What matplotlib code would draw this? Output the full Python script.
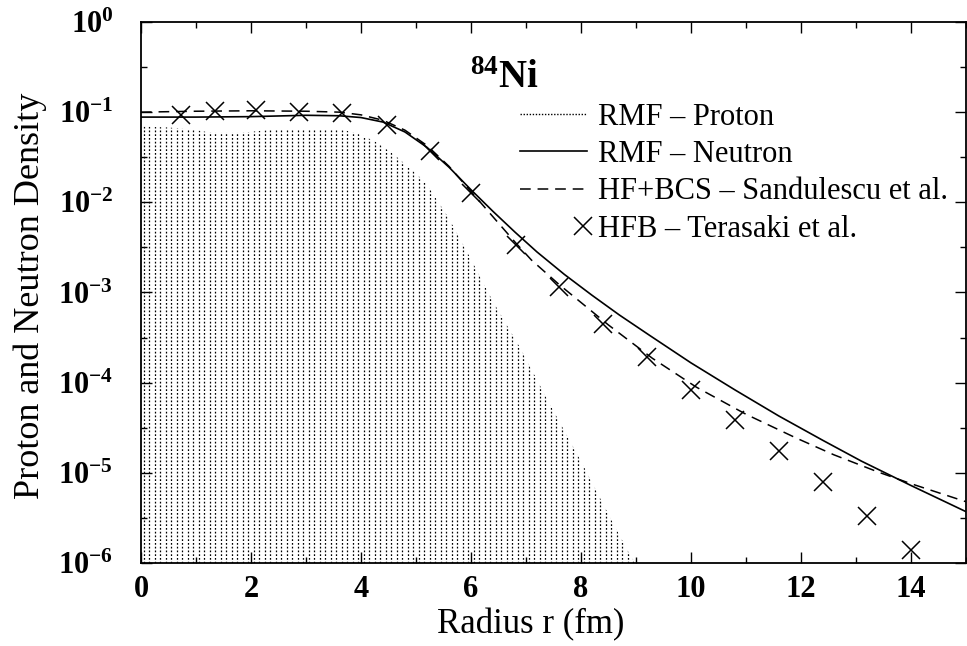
import numpy as np
import matplotlib
matplotlib.use("Agg")
import matplotlib.pyplot as plt
from matplotlib.lines import Line2D
from matplotlib.legend_handler import HandlerLine2D
from matplotlib.ticker import FixedLocator, FuncFormatter

plt.rcParams['font.family'] = ['Liberation Serif', 'DejaVu Serif']
plt.rcParams['mathtext.fontset'] = 'custom'
plt.rcParams['mathtext.rm'] = 'Liberation Serif'
plt.rcParams['mathtext.bf'] = 'Liberation Serif:bold'
plt.rcParams['mathtext.it'] = 'Liberation Serif:italic'

# ---- data (log10 of density) ----
r_proton = [0, 0.5, 1.0, 1.3, 1.8, 2.3, 3.0, 3.7, 4.0, 4.3, 4.6, 5.0, 5.2, 5.6, 6.0, 6.4, 6.9, 7.4, 8.0, 8.5, 8.9, 9.1]
log_proton = [-1.16, -1.17, -1.20, -1.23, -1.23, -1.20, -1.19, -1.20, -1.25, -1.34, -1.47, -1.68, -1.80,
              -2.18, -2.63, -3.10, -3.62, -4.20, -4.87, -5.46, -5.92, -6.10]

r_neutron = [0, 1, 2, 3, 3.6, 4.0, 4.4, 4.8, 5.2, 5.6, 6.0, 6.4, 6.8, 7.2, 7.7, 8.2, 8.7, 9.26,
             10.0, 10.8, 11.6, 12.4, 13.1, 14.0, 15.0]
log_neutron = [-1.055, -1.055, -1.05, -1.035, -1.04, -1.06, -1.11, -1.22, -1.39, -1.61, -1.86, -2.10,
               -2.33, -2.55, -2.80, -3.03, -3.25, -3.48, -3.78, -4.08, -4.37, -4.64, -4.87, -5.14, -5.43]

r_hfbcs = [0, 1, 2, 3, 3.6, 4.0, 4.4, 4.8, 5.2, 5.6, 6.0, 6.4, 6.8, 7.1, 7.6, 8.1, 8.5, 9.3,
           10.1, 11.0, 11.9, 12.6, 13.4, 14.0, 15.0]
log_hfbcs = [-1.0, -0.99, -0.985, -0.99, -1.0, -1.03, -1.09, -1.20, -1.37, -1.60, -1.88, -2.16,
             -2.44, -2.64, -2.91, -3.16, -3.36, -3.73, -4.05, -4.35, -4.61, -4.80, -4.99, -5.12, -5.32]

r_hfb = [0.72, 1.34, 2.1, 2.88, 3.65, 4.47, 5.25, 6.0, 6.82, 7.6, 8.4, 9.2, 10.0, 10.8, 11.6, 12.4, 13.2, 14.0]
log_hfb = [-1.03, -0.99, -0.98, -1.0, -1.01, -1.14, -1.43, -1.90, -2.47, -2.94, -3.35, -3.72,
           -4.08, -4.41, -4.76, -5.10, -5.48, -5.86]

xticks = [0, 2, 4, 6, 8, 10, 12, 14]
ydecades = [-6, -5, -4, -3, -2, -1, 0]


class RightMarkerHandler(HandlerLine2D):
    """Legend handler that puts its single marker near the right end of the handle."""
    def get_xdata(self, legend, xdescent, ydescent, width, height, fontsize):
        xdata = np.array([-xdescent + 0.9 * width, -xdescent + width])
        return xdata, xdata


fig = plt.figure(figsize=(9.67, 6.46), dpi=100)
ax = fig.add_axes([0.1458, 0.1285, 0.853, 0.8375])
ax.set_yscale('log')
ax.set_xlim(0, 15)
ax.set_ylim(1e-6, 1)

# proton density: region filled with columns of small dots (clipped to the area under the curve)
rp = np.array(r_proton)
dp = 10 ** np.array(log_proton)
area = ax.fill_between(rp, 1e-6, dp, facecolor='none', edgecolor='none', linewidth=0)
cols = ax.vlines(np.arange(0.05, 15, 0.1), 1e-6, 1, colors='black', linewidth=0.9,
                 linestyles=[(0, (1.4, 1.6))])
cols.set_clip_path(area.get_paths()[0], ax.transData)

ax.plot(r_neutron, 10 ** np.array(log_neutron), color='black', lw=1.2)
ax.plot(r_hfbcs, 10 ** np.array(log_hfbcs), color='black', lw=1.1, ls=(0, (7, 4.5)))
ax.plot(r_hfb, 10 ** np.array(log_hfb), ls='none', marker='x', color='black', ms=13, mew=1.1)

ax.xaxis.set_major_locator(FixedLocator(xticks))
ax.xaxis.set_minor_locator(FixedLocator(np.arange(0, 16, 1)))
ax.yaxis.set_major_locator(FixedLocator([10.0 ** d for d in ydecades]))
ax.yaxis.set_minor_locator(FixedLocator([10.0 ** (d + 0.5) for d in ydecades[:-1]]))
ax.yaxis.set_major_formatter(FuncFormatter(lambda v, p: r'$\mathbf{10^{%d}}$' % int(round(np.log10(v)))))
ax.xaxis.set_major_formatter(FuncFormatter(lambda v, p: '%d' % v))
ax.tick_params(which='both', direction='in', top=True, right=True, width=1.0)
ax.tick_params(which='major', length=8, labelsize=22)
ax.tick_params(which='minor', length=4)
ax.tick_params(axis='x', which='major', pad=9)
ax.tick_params(axis='y', which='major', pad=20)
for lab in ax.get_xticklabels():
    lab.set_fontweight('bold')
for s in ax.spines.values():
    s.set_linewidth(1.3)

ax.set_xlabel('Radius r (fm)', fontsize=25)
ax.set_ylabel('Proton and Neutron Density', fontsize=26)
ax.xaxis.set_label_coords((531 - 141) / 825, -0.083)
ax.yaxis.set_label_coords(-0.114, 0.494)

ax.text(0.44, 0.895, r'$^{\mathbf{84}}$Ni', transform=ax.transAxes, fontsize=28,
        fontweight='bold', ha='center', va='center')

handles = [
    Line2D([], [], color='black', lw=1.0, ls=(0, (1, 1.2))),
    Line2D([], [], color='black', lw=1.2),
    Line2D([], [], color='black', lw=1.1, ls=(0, (7, 4.5))),
    Line2D([], [], color='black', ls='none', marker='x', ms=13, mew=1.1),
]
labels = ['RMF \u2013 Proton', 'RMF \u2013 Neutron', 'HF+BCS \u2013 Sandulescu et al.', 'HFB \u2013 Terasaki et al.']
ax.legend(handles, labels, loc='upper right', bbox_to_anchor=(0.993, 0.873), frameon=False,
          fontsize=22, handlelength=2.2, handletextpad=0.36, labelspacing=0.27, borderaxespad=0,
          handler_map={handles[3]: RightMarkerHandler()})

fig.savefig('out.png', dpi=100)
